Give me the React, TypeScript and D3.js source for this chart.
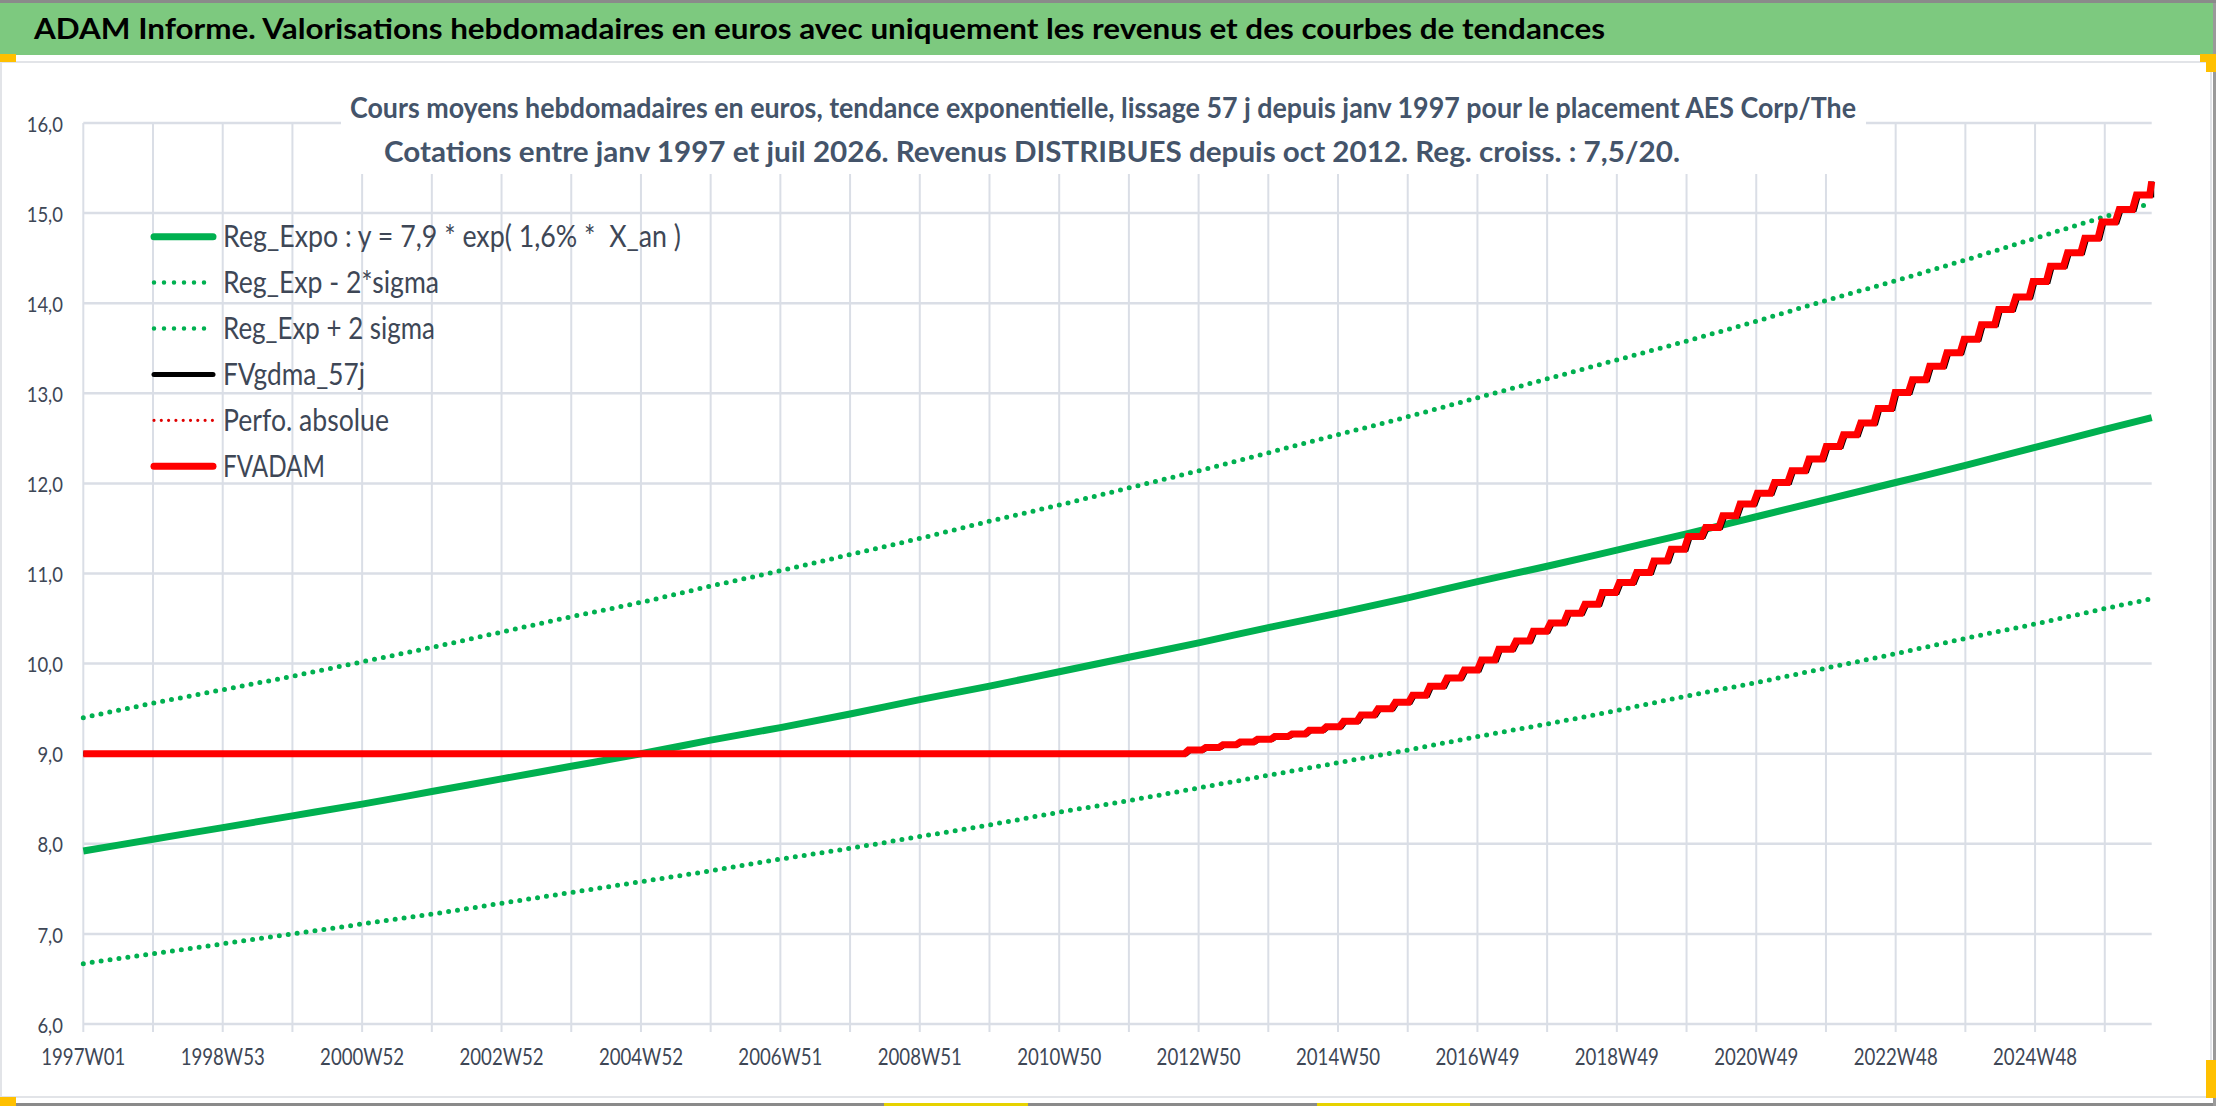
import * as d3 from "d3";
import React from "react";

// ---- data ----
// weekly category axis: index 0 = 1997W01, last point = juil 2026
const lastWeek = 1543;
const xLabels = [
  "1997W01", "1998W53", "2000W52", "2002W52", "2004W52", "2006W51", "2008W51", "2010W50",
  "2012W50", "2014W50", "2016W49", "2018W49", "2020W49", "2022W48", "2024W48",
];
const yTicks = [6, 7, 8, 9, 10, 11, 12, 13, 14, 15, 16];

// trend curves read at each yearly gridline (week 52*k) and at the last week
const trendWeeks = [
  0, 52, 104, 156, 208, 260, 312, 364, 416, 468, 520, 572, 624, 676, 728, 780,
  832, 884, 936, 988, 1040, 1092, 1144, 1196, 1248, 1300, 1352, 1404, 1456, 1508, 1543,
];
const regExpo = [
  7.92, 8.05, 8.18, 8.31, 8.44, 8.58, 8.72, 8.86, 9.0, 9.15, 9.29, 9.44, 9.6, 9.75, 9.91, 10.07,
  10.23, 10.4, 10.56, 10.73, 10.91, 11.08, 11.26, 11.44, 11.63, 11.82, 12.01, 12.2, 12.4, 12.6, 12.73,
];
const regMinus = [
  6.67, 6.78, 6.89, 7.0, 7.11, 7.22, 7.34, 7.46, 7.58, 7.7, 7.83, 7.95, 8.08, 8.21, 8.35, 8.48,
  8.62, 8.76, 8.9, 9.04, 9.19, 9.33, 9.48, 9.64, 9.79, 9.95, 10.11, 10.28, 10.44, 10.61, 10.72,
];
const regPlus = [
  9.4, 9.56, 9.71, 9.86, 10.02, 10.18, 10.35, 10.52, 10.68, 10.86, 11.03, 11.21, 11.39, 11.58, 11.76, 11.95,
  12.14, 12.34, 12.54, 12.74, 12.95, 13.16, 13.37, 13.58, 13.8, 14.03, 14.25, 14.48, 14.72, 14.96, 15.11,
];

// FVADAM: flat until the first distribution (oct 2012), then one level per quarter
const fvStart = 9.0;
const firstDividendWeek = 823;
const fvLevels = [
  9.04, 9.07, 9.1, 9.13, 9.16, 9.19, 9.22, 9.26, 9.3, 9.36, 9.43, 9.5, 9.57, 9.65, 9.75, 9.84,
  9.93, 10.04, 10.16, 10.25, 10.36, 10.45, 10.56, 10.66, 10.79, 10.9, 11.01, 11.14, 11.27, 11.41,
  11.51, 11.64, 11.77, 11.89, 12.01, 12.14, 12.27, 12.41, 12.54, 12.67, 12.83, 13.01, 13.15, 13.3,
  13.45, 13.6, 13.76, 13.93, 14.07, 14.24, 14.41, 14.56, 14.72, 14.9, 15.04, 15.2, 15.35,
];

const title =
  "ADAM Informe. Valorisations hebdomadaires en euros avec uniquement les revenus et des courbes de tendances";
const subtitle1 =
  "Cours moyens hebdomadaires en euros, tendance exponentielle, lissage 57 j depuis janv 1997 pour le placement AES Corp/The";
const subtitle2 =
  "Cotations entre janv 1997 et juil 2026. Revenus DISTRIBUES depuis oct 2012. Reg. croiss. : 7,5/20.";

const GREEN = "#00B050";
const RED = "#FF0000";
const GRID = "#DADEE6";
const TXT = "#3E4756";
const FONT = "Lato, 'Open Sans', sans-serif";

type Pt = [number, number];

const legendItems = [
  { label: "Reg_Expo : y = 7,9 * exp( 1,6% *  X_an )", color: GREEN, width: 7, dash: "", len: 458 },
  { label: "Reg_Exp - 2*sigma", color: GREEN, width: 4.5, dash: "0 10", len: 216 },
  { label: "Reg_Exp + 2 sigma", color: GREEN, width: 4.5, dash: "0 10", len: 212 },
  { label: "FVgdma_57j", color: "#000000", width: 5, dash: "", len: 142 },
  { label: "Perfo. absolue", color: "#E00000", width: 3.2, dash: "0 7.3", len: 166 },
  { label: "FVADAM", color: RED, width: 7, dash: "", len: 102 },
];

export default function App() {
  const W = 2216;
  const H = 1106;
  const m = { left: 83.3, right: 2151.7, top: 123, bottom: 1024 };

  const x = d3.scaleLinear().domain([0, lastWeek]).range([m.left, m.right]);
  const y = d3.scaleLinear().domain([6, 16]).range([m.bottom, m.top]);

  const trend = d3
    .line<Pt>()
    .x((d) => x(d[0]))
    .y((d) => y(d[1]))
    .curve(d3.curveMonotoneX);
  const straight = d3
    .line<Pt>()
    .x((d) => x(d[0]))
    .y((d) => y(d[1]));

  const zip = (vals: number[]): Pt[] => trendWeeks.map((w, i) => [w, vals[i]] as Pt);

  // quarterly steps with a short ramp between levels
  const quarter = (lastWeek - firstDividendWeek) / (fvLevels.length - 1);
  const stepPts = (shift: number): Pt[] => {
    const pts: Pt[] = [[0, fvStart]];
    let prev = fvStart;
    fvLevels.forEach((v, i) => {
      const s = firstDividendWeek + i * quarter;
      pts.push([Math.min(s - 1.5 + shift, lastWeek), prev]);
      pts.push([Math.min(s + 1.5 + shift, lastWeek), v]);
      prev = v;
    });
    return pts;
  };

  const yearWeeks = d3.range(0, lastWeek + 1, 52);
  const labelWeeks = d3.range(0, lastWeek, 104);

  return (
    <div style={{ position: "absolute", left: 0, top: 0 }}>
      <svg width={W} height={H} viewBox={`0 0 ${W} ${H}`} style={{ display: "block", fontFamily: FONT }}>
        <rect width={W} height={H} fill="#fff" />

        {/* header band */}
        <rect x={0} y={0} width={W} height={3} fill="#8A8A8A" />
        <rect x={0} y={3} width={W} height={52} fill="#7DC97F" />
        <text
          x={34}
          y={39}
          fontSize={29}
          fontWeight="bold"
          fill="#000"
          textLength={1571}
          lengthAdjust="spacingAndGlyphs"
        >
          {title}
        </text>

        {/* chart frame */}
        <rect x={1} y={62} width={2210} height={1035} fill="none" stroke="#E2E4E8" strokeWidth={2} />
        <rect x={0} y={1103} width={W} height={3} fill="#8A8A8A" />
        <rect x={2213} y={3} width={3} height={H} fill="#9A9A9A" />
        <rect x={0} y={54} width={16} height={8} fill="#FFC000" />
        <rect x={2200} y={54} width={16} height={8} fill="#FFC000" />
        <rect x={2206} y={54} width={10} height={18} fill="#FFC000" />
        <rect x={2206} y={1060} width={10} height={38} fill="#FFC000" />
        <rect x={0} y={1097} width={16} height={9} fill="#FFC000" />
        <rect x={884} y={1103} width={144} height={3} fill="#E6D200" />
        <rect x={1317} y={1103} width={153} height={3} fill="#E6D200" />

        {/* vertical grid (yearly) with tick marks below the axis */}
        {yearWeeks.map((w) => (
          <line key={`v${w}`} x1={x(w)} x2={x(w)} y1={m.top} y2={m.bottom + 8} stroke={GRID} strokeWidth={2} />
        ))}
        {/* horizontal grid + y labels */}
        {yTicks.map((t) => (
          <g key={`h${t}`}>
            <line x1={m.left} x2={m.right} y1={y(t)} y2={y(t)} stroke={GRID} strokeWidth={2.5} />
            <text
              transform={`translate(63,${y(t)}) scale(0.84,1)`}
              textAnchor="end"
              dominantBaseline="central"
              fontSize={22}
              fill={TXT}
            >
              {t.toFixed(1).replace(".", ",")}
            </text>
          </g>
        ))}

        {/* x labels */}
        {labelWeeks.map((w, i) => (
          <text
            key={`x${w}`}
            transform={`translate(${x(w)},1065) scale(0.81,1)`}
            textAnchor="middle"
            fontSize={23}
            fill={TXT}
          >
            {xLabels[i]}
          </text>
        ))}

        {/* chart title box (hides the grid behind it) */}
        <rect x={341} y={63} width={1525} height={111} fill="#fff" />
        <text x={350} y={118} fontSize={29} fontWeight="bold" fill="#44546A" textLength={1506} lengthAdjust="spacingAndGlyphs">
          {subtitle1}
        </text>
        <text x={384} y={162} fontSize={29} fontWeight="bold" fill="#44546A" textLength={1296} lengthAdjust="spacingAndGlyphs">
          {subtitle2}
        </text>

        {/* series */}
        <path d={trend(zip(regExpo)) ?? undefined} fill="none" stroke={GREEN} strokeWidth={7} />
        <path
          d={trend(zip(regMinus)) ?? undefined}
          fill="none"
          stroke={GREEN}
          strokeWidth={5}
          strokeDasharray="0 9"
          strokeLinecap="round"
        />
        <path
          d={trend(zip(regPlus)) ?? undefined}
          fill="none"
          stroke={GREEN}
          strokeWidth={5}
          strokeDasharray="0 9"
          strokeLinecap="round"
        />
        <path d={straight(stepPts(1.5)) ?? undefined} fill="none" stroke="#000" strokeWidth={5} />
        <path d={straight(stepPts(0)) ?? undefined} fill="none" stroke={RED} strokeWidth={7} />

        {/* legend */}
        {legendItems.map((it, i) => {
          const ry = 236.7 + i * 45.9;
          return (
            <g key={it.label}>
              <line
                x1={154}
                x2={213}
                y1={ry}
                y2={ry}
                stroke={it.color}
                strokeWidth={it.width}
                strokeDasharray={it.dash || undefined}
                strokeLinecap="round"
              />
              <text
                x={223}
                y={ry + 10.5}
                fontSize={30}
                fill={TXT}
                textLength={it.len}
                lengthAdjust="spacingAndGlyphs"
                style={{ whiteSpace: "pre" }}
              >
                {it.label}
              </text>
            </g>
          );
        })}
      </svg>
    </div>
  );
}
